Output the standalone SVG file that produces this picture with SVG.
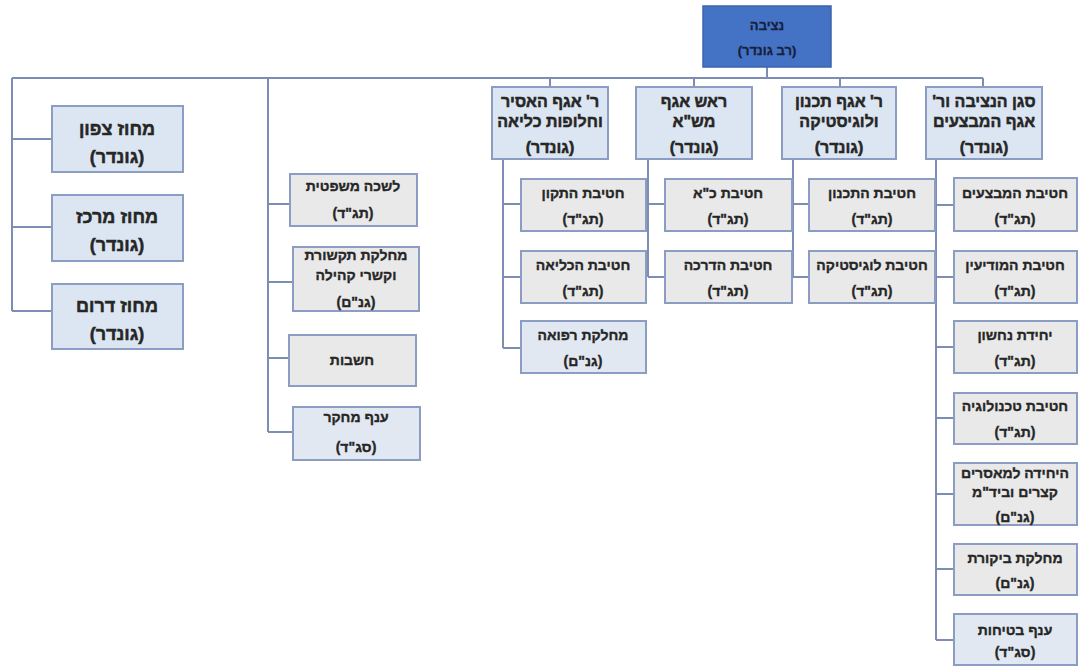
<svg xmlns="http://www.w3.org/2000/svg" width="1079" height="666" viewBox="0 0 1079 666">
<style>
  text { font-family: "Liberation Sans", "DejaVu Sans", sans-serif; font-weight: bold; fill: #262626; stroke: #262626; stroke-width: 0.5; text-anchor: middle; direction: rtl; }
  .top rect { fill: #4472c4; stroke: #3c64ad; stroke-width: 1.5; }
  .top text { font-size: 13px; fill: #16213d; stroke: #16213d; stroke-width: 0.3; }
  .lvl rect { fill: #dce6f2; stroke: #8b9dc3; stroke-width: 2; }
  .lvl text { font-size: 16px; }
  .reg rect { fill: #dce6f2; stroke: #8b9dc3; stroke-width: 2; }
  .reg text { font-size: 18px; }
  .sub rect { fill: #e9e9e9; stroke: #8b9dc3; stroke-width: 2; }
  .sub text { font-size: 14px; stroke-width: 0.35; }
  .subb rect { fill: #e1e8f1; stroke: #8b9dc3; stroke-width: 2; }
  .subb text { font-size: 14px; stroke-width: 0.35; }
  #connectors path { fill: none; stroke: #7d8db3; stroke-width: 2; }
</style>
<rect width="1079" height="666" fill="#ffffff"/>
<g id="connectors">
  <path d="M767 67 V78"/>
  <path d="M12 78 H983"/>
  <path d="M550 78 V87 M694 78 V87 M840 78 V87 M983 78 V87"/>
  <path d="M12 78 V311 M12 139 H52 M12 227 H52 M12 311 H52"/>
  <path d="M268 78 V432 M268 204 H290 M268 282 H293 M268 358 H289 M268 432 H293"/>
  <path d="M503 159 V348 M503 204 H521 M503 277 H521 M503 348 H521"/>
  <path d="M648 159 V277 M648 204 H665 M648 277 H665"/>
  <path d="M793 159 V277 M793 204 H809 M793 277 H809"/>
  <path d="M936 159 V640 M936 205 H954 M936 277 H954 M936 347 H954 M936 418 H954 M936 494 H954 M936 569 H954 M936 640 H954"/>
</g>
<g id="n-top" class="top">
  <rect x="703" y="6" width="128" height="61"/>
  <text x="767" y="30">נציבה</text>
  <text x="767" y="55">(רב גונדר)</text>
</g>
<g id="n-asir" class="lvl">
  <rect x="492" y="87" width="116" height="72"/>
  <text x="550" y="107">ר' אגף האסיר</text>
  <text x="550" y="127">וחלופות כליאה</text>
  <text x="550" y="153">(גונדר)</text>
</g>
<g id="n-mesha" class="lvl">
  <rect x="636" y="87" width="116" height="72"/>
  <text x="694" y="107">ראש אגף</text>
  <text x="694" y="127">מש"א</text>
  <text x="694" y="153">(גונדר)</text>
</g>
<g id="n-tichnun" class="lvl">
  <rect x="782" y="87" width="114" height="72"/>
  <text x="839" y="107">ר' אגף תכנון</text>
  <text x="839" y="127">ולוגיסטיקה</text>
  <text x="839" y="153">(גונדר)</text>
</g>
<g id="n-segen" class="lvl">
  <rect x="926" y="87" width="116" height="72"/>
  <text x="984" y="107">סגן הנציבה ור'</text>
  <text x="984" y="127">אגף המבצעים</text>
  <text x="984" y="153">(גונדר)</text>
</g>
<g id="n-tzafon" class="reg">
  <rect x="52" y="106" width="131" height="66"/>
  <text x="117" y="135">מחוז צפון</text>
  <text x="117" y="163">(גונדר)</text>
</g>
<g id="n-merkaz" class="reg">
  <rect x="52" y="195" width="131" height="66"/>
  <text x="117" y="223">מחוז מרכז</text>
  <text x="117" y="251">(גונדר)</text>
</g>
<g id="n-darom" class="reg">
  <rect x="52" y="284" width="131" height="65"/>
  <text x="117" y="312">מחוז דרום</text>
  <text x="117" y="340">(גונדר)</text>
</g>
<g id="n-lishka" class="sub">
  <rect x="290" y="174" width="127" height="52"/>
  <text x="353" y="191">לשכה משפטית</text>
  <text x="353" y="218">(תג"ד)</text>
</g>
<g id="n-tikshoret" class="sub">
  <rect x="293" y="247" width="126" height="64"/>
  <text x="356" y="260">מחלקת תקשורת</text>
  <text x="356" y="280">וקשרי קהילה</text>
  <text x="356" y="307">(גנ"ם)</text>
</g>
<g id="n-hashavut" class="sub">
  <rect x="289" y="335" width="127" height="51"/>
  <text x="352" y="365">חשבות</text>
</g>
<g id="n-mechkar" class="subb">
  <rect x="293" y="407" width="127" height="53"/>
  <text x="356" y="422">ענף מחקר</text>
  <text x="356" y="452">(סג"ד)</text>
</g>
<g id="n-tikun" class="sub">
  <rect x="521" y="179" width="125" height="52"/>
  <text x="583" y="198">חטיבת התקון</text>
  <text x="583" y="224">(תג"ד)</text>
</g>
<g id="n-klia" class="sub">
  <rect x="521" y="251" width="125" height="52"/>
  <text x="583" y="270">חטיבת הכליאה</text>
  <text x="583" y="296">(תג"ד)</text>
</g>
<g id="n-refua" class="subb">
  <rect x="521" y="321" width="125" height="52"/>
  <text x="583" y="340">מחלקת רפואה</text>
  <text x="583" y="366">(גנ"ם)</text>
</g>
<g id="n-koach" class="sub">
  <rect x="665" y="179" width="127" height="52"/>
  <text x="728" y="198">חטיבת כ"א</text>
  <text x="728" y="224">(תג"ד)</text>
</g>
<g id="n-hadracha" class="sub">
  <rect x="665" y="251" width="127" height="52"/>
  <text x="728" y="270">חטיבת הדרכה</text>
  <text x="728" y="296">(תג"ד)</text>
</g>
<g id="n-hatichnun" class="sub">
  <rect x="809" y="179" width="126" height="52"/>
  <text x="872" y="198">חטיבת התכנון</text>
  <text x="872" y="224">(תג"ד)</text>
</g>
<g id="n-logistika" class="sub">
  <rect x="809" y="251" width="126" height="52"/>
  <text x="872" y="270">חטיבת לוגיסטיקה</text>
  <text x="872" y="296">(תג"ד)</text>
</g>
<g id="n-mivtzaim" class="sub">
  <rect x="954" y="178" width="123" height="53"/>
  <text x="1015" y="198">חטיבת המבצעים</text>
  <text x="1015" y="224">(תג"ד)</text>
</g>
<g id="n-modiin" class="sub">
  <rect x="954" y="251" width="123" height="52"/>
  <text x="1015" y="270">חטיבת המודיעין</text>
  <text x="1015" y="296">(תג"ד)</text>
</g>
<g id="n-nachshon" class="sub">
  <rect x="954" y="321" width="123" height="52"/>
  <text x="1015" y="340">יחידת נחשון</text>
  <text x="1015" y="366">(תג"ד)</text>
</g>
<g id="n-tech" class="sub">
  <rect x="954" y="393" width="123" height="51"/>
  <text x="1015" y="411">חטיבת טכנולוגיה</text>
  <text x="1015" y="437">(תג"ד)</text>
</g>
<g id="n-maasarim" class="sub">
  <rect x="954" y="463" width="123" height="62"/>
  <text x="1015" y="478">היחידה למאסרים</text>
  <text x="1015" y="497">קצרים וביד"מ</text>
  <text x="1015" y="522">(גנ"ם)</text>
</g>
<g id="n-bikoret" class="sub">
  <rect x="954" y="544" width="123" height="51"/>
  <text x="1015" y="563">מחלקת ביקורת</text>
  <text x="1015" y="588">(גנ"ם)</text>
</g>
<g id="n-betichut" class="subb">
  <rect x="954" y="614" width="123" height="51"/>
  <text x="1015" y="635">ענף בטיחות</text>
  <text x="1015" y="657">(סג"ד)</text>
</g>
</svg>
